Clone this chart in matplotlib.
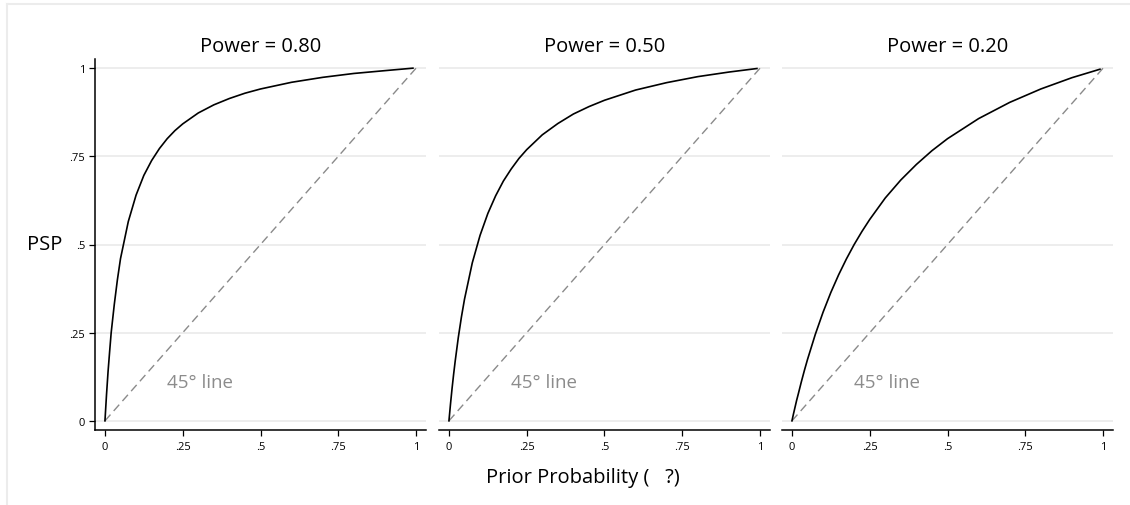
import matplotlib
matplotlib.use("Agg")
import matplotlib.pyplot as plt
from matplotlib.lines import Line2D

plt.rcParams['font.family'] = ['Open Sans', 'DejaVu Sans']

# prior probability (x) and PSP values
prior = [0, 0.005, 0.01, 0.015, 0.02, 0.03, 0.04, 0.05, 0.075, 0.1, 0.125, 0.15, 0.175,
         0.2, 0.225, 0.25, 0.3, 0.35, 0.4, 0.45, 0.5, 0.6, 0.7, 0.8, 0.9, 0.99]
psp_080 = [0, 0.074, 0.14, 0.196, 0.25, 0.33, 0.40, 0.46, 0.565, 0.64, 0.696, 0.738, 0.772,
           0.80, 0.823, 0.842, 0.873, 0.896, 0.914, 0.929, 0.941, 0.96, 0.974, 0.985, 0.993, 1.0]
psp_050 = [0, 0.048, 0.092, 0.132, 0.169, 0.236, 0.294, 0.345, 0.448, 0.526, 0.588, 0.638, 0.680,
           0.714, 0.744, 0.769, 0.811, 0.843, 0.870, 0.891, 0.909, 0.938, 0.959, 0.976, 0.989, 0.999]
psp_020 = [0, 0.02, 0.039, 0.058, 0.075, 0.11, 0.143, 0.174, 0.245, 0.308, 0.364, 0.414, 0.459,
           0.50, 0.537, 0.571, 0.632, 0.683, 0.727, 0.766, 0.80, 0.857, 0.903, 0.941, 0.973, 0.997]
titles = ["Power = 0.80", "Power = 0.50", "Power = 0.20"]
series = [psp_080, psp_050, psp_020]
ticks = [0, 0.25, 0.5, 0.75, 1]
tick_labels = ["0", ".25", ".5", ".75", "1"]

fig = plt.figure(figsize=(11.3, 5.06), dpi=100)
fig.patch.set_facecolor("white")

# light frame lines at top and left like the exported graph
fig.add_artist(Line2D([7 / 1130, 1], [1 - 5 / 506, 1 - 5 / 506], color="#ececec", lw=1.5))
fig.add_artist(Line2D([7 / 1130, 7 / 1130], [0, 1 - 5 / 506], color="#ececec", lw=1.5))

lefts = [95 / 1130, 439 / 1130, 782 / 1130]
width = 331 / 1130
bottom = 1 - 431 / 506
height = 371 / 506

for i, (left, y, title) in enumerate(zip(lefts, series, titles)):
    ax = fig.add_axes([left, bottom, width, height])
    for g in ticks:
        ax.axhline(g, color="#e8e8e8", lw=1.1, zorder=0)
    ax.plot([0, 1], [0, 1], color="#8a8a8a", lw=1.0, dashes=(6, 3.5), zorder=2)
    ax.plot(prior, y, color="black", lw=1.2, zorder=3)
    ax.text(0.2, 0.11, "45° line", color="#8c8c8c", fontsize=13.5,
            ha="left", va="center")

    ax.set_xlim(-0.032, 1.032)
    ax.set_ylim(-0.026, 1.026)
    ax.set_xticks(ticks)
    ax.set_xticklabels(tick_labels, fontsize=8)
    ax.set_title(title, fontsize=14.5, pad=6)

    for s in ["top", "right"]:
        ax.spines[s].set_visible(False)
    ax.spines["bottom"].set_linewidth(1.1)
    ax.tick_params(axis="x", direction="out", length=4, width=0.9, pad=4)

    if i == 0:
        ax.set_yticks(ticks)
        ax.set_yticklabels(tick_labels, fontsize=8)
        ax.tick_params(axis="y", direction="out", length=4, width=0.9, pad=3)
        ax.spines["left"].set_linewidth(1.1)
        ax.set_ylabel("PSP", fontsize=14.5, rotation=0, labelpad=18, va="center")
    else:
        ax.spines["left"].set_visible(False)
        ax.set_yticks([])

fig.text(583 / 1130, 1 - 478 / 506, "Prior Probability (   ?)", fontsize=14.5,
         ha="center", va="center")

fig.savefig("out.png", dpi=100, facecolor="white")
